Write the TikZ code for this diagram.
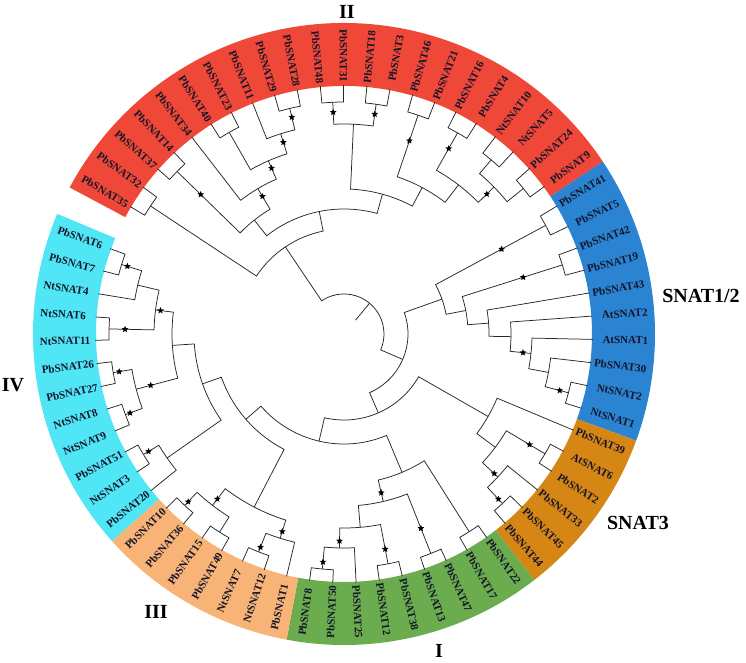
\documentclass[tikz,border=0pt]{standalone}
\usepackage{fontspec}
\setmainfont{Liberation Serif}
\usetikzlibrary{shapes.geometric}
\definecolor{cII}{HTML}{F04838}
\definecolor{cSA}{HTML}{2A84D2}
\definecolor{cSB}{HTML}{D68614}
\definecolor{cI}{HTML}{6AAC4E}
\definecolor{cIII}{HTML}{F8B476}
\definecolor{cIV}{HTML}{50E6F5}
\definecolor{labc}{HTML}{14142A}
\tikzset{
  br/.style={draw=black!85, line width=0.75pt},
  lab/.style={font=\bfseries\fontsize{11}{11}\selectfont, inner sep=0.5pt, text=labc},
  big/.style={font=\bfseries\fontsize{20}{20}\selectfont, inner sep=0pt},
  bs/.style={star, star points=5, star point ratio=2.2, fill=black, draw=none, inner sep=0pt, minimum size=7pt},
}
\newcommand\lf[2]{%
  \pgfmathsetmacro\lfa{149.2-5.373*#2}%
  \expandafter\let\csname ang#1\endcsname\lfa
  \coordinate (#1) at (\lfa:249pt);%
  \ifdim\lfa pt<-90pt
    \pgfmathsetmacro\lfr{\lfa+180}\node[lab,rotate=\lfr,anchor=west] (L#1) at (\lfa:305pt) {#1};%
  \else\ifdim\lfa pt>90pt
    \pgfmathsetmacro\lfr{\lfa-180}\node[lab,rotate=\lfr,anchor=west] (L#1) at (\lfa:305pt) {#1};%
  \else
    \node[lab,rotate=\lfa,anchor=east] (L#1) at (\lfa:305pt) {#1};%
  \fi\fi}
\newcommand\nd[4]{%
  \edef\nca{\csname ang#3\endcsname}%
  \edef\ncb{\csname ang#4\endcsname}%
  \pgfmathsetmacro\nmid{(\nca+\ncb)/2}%
  \expandafter\let\csname ang#1\endcsname\nmid
  \coordinate (#1) at (\nmid:#2pt);%
  \draw[br] (#3) -- (\nca:#2pt) arc[start angle=\nca, end angle=\ncb, radius=#2pt] -- (#4);}
\newcommand\st[2]{\edef\sta{\csname ang#1\endcsname}\node[bs] (s#1) at (\sta:#2pt) {};}
\newcommand\band[3]{\fill[#1] (#2:248pt) arc[start angle=#2, end angle=#3, radius=248pt] -- (#3:311pt) arc[start angle=#3, end angle=#2, radius=311pt] -- cycle;}
\begin{document}
\begin{tikzpicture}
\useasboundingbox (-344pt,-328pt) rectangle (402pt,334pt);
% bands
\band{cII}{151.89}{33.68}
\band{cSA}{33.68}{-20.05}
\band{cSB}{-20.05}{-52.29}
\band{cI}{-52.29}{-100.64}
\band{cIII}{-100.64}{-138.26}
\band{cIV}{-138.26}{-202.73}
% leaves
\lf{PbSNAT35}{0}\lf{PbSNAT32}{1}\lf{PbSNAT37}{2}\lf{PbSNAT14}{3}\lf{PbSNAT34}{4}
\lf{PbSNAT40}{5}\lf{PbSNAT23}{6}\lf{PbSNAT11}{7}\lf{PbSNAT29}{8}\lf{PbSNAT28}{9}
\lf{PbSNAT48}{10}\lf{PbSNAT31}{11}\lf{PbSNAT18}{12}\lf{PbSNAT3}{13}\lf{PbSNAT46}{14}
\lf{PbSNAT21}{15}\lf{PbSNAT16}{16}\lf{PbSNAT4}{17}\lf{NtSNAT10}{18}\lf{NtSNAT5}{19}
\lf{PbSNAT24}{20}\lf{PbSNAT9}{21}\lf{PbSNAT41}{22}\lf{PbSNAT5}{23}\lf{PbSNAT42}{24}
\lf{PbSNAT19}{25}\lf{PbSNAT43}{26}\lf{AtSNAT2}{27}\lf{AtSNAT1}{28}\lf{PbSNAT30}{29}
\lf{NtSNAT2}{30}\lf{NtSNAT1}{31}\lf{PbSNAT39}{32}\lf{AtSNAT6}{33}\lf{PbSNAT2}{34}
\lf{PbSNAT33}{35}\lf{PbSNAT45}{36}\lf{PbSNAT44}{37}\lf{PbSNAT22}{38}\lf{PbSNAT17}{39}
\lf{PbSNAT47}{40}\lf{PbSNAT13}{41}\lf{PbSNAT38}{42}\lf{PbSNAT12}{43}\lf{PbSNAT25}{44}
\lf{PbSNAT50}{45}\lf{PbSNAT8}{46}\lf{PbSNAT1}{47}\lf{NtSNAT12}{48}\lf{NtSNAT7}{49}
\lf{PbSNAT49}{50}\lf{PbSNAT15}{51}\lf{PbSNAT36}{52}\lf{PbSNAT10}{53}\lf{PbSNAT20}{54}
\lf{NtSNAT3}{55}\lf{PbSNAT51}{56}\lf{NtSNAT9}{57}\lf{NtSNAT8}{58}\lf{PbSNAT27}{59}
\lf{PbSNAT26}{60}\lf{NtSNAT11}{61}\lf{NtSNAT6}{62}\lf{NtSNAT4}{63}\lf{PbSNAT7}{64}
\lf{PbSNAT6}{65}
% clade II
\nd{aA}{232}{PbSNAT35}{PbSNAT32}
\nd{aB}{233}{PbSNAT37}{PbSNAT14}
\nd{aC}{232}{PbSNAT40}{PbSNAT23}
\nd{aD}{232}{PbSNAT29}{PbSNAT28}
\nd{aY}{210}{PbSNAT11}{aD}
\nd{aX}{189}{aC}{aY}
\nd{aW}{169}{PbSNAT34}{aX}
\nd{aV}{145}{aB}{aW}
\nd{bA}{232}{PbSNAT48}{PbSNAT31}
\nd{bB}{232}{PbSNAT18}{PbSNAT3}
\nd{bP}{210}{bA}{bB}
\nd{bC}{231}{PbSNAT46}{PbSNAT21}
\nd{bD}{231}{PbSNAT16}{PbSNAT4}
\nd{bE}{228}{NtSNAT10}{NtSNAT5}
\nd{bF}{231}{PbSNAT24}{PbSNAT9}
\nd{bQ}{210}{bE}{bF}
\nd{bR}{188}{bD}{bQ}
\nd{bS}{166}{bC}{bR}
\nd{bT}{145}{bP}{bS}
\nd{cU}{125}{aV}{bT}
\nd{cA}{105}{aA}{cU}
% SNAT1/2
\nd{dA}{229}{PbSNAT41}{PbSNAT5}
\nd{dB}{229}{PbSNAT42}{PbSNAT19}
\nd{dG}{232}{NtSNAT2}{NtSNAT1}
\nd{dF}{208}{PbSNAT30}{dG}
\nd{dH}{188}{AtSNAT1}{dF}
\nd{dI}{167}{AtSNAT2}{dH}
\nd{dE}{145}{PbSNAT43}{dI}
\nd{dD}{124}{dB}{dE}
\nd{dC}{104}{dA}{dD}
% SNAT3
\nd{eM}{234}{AtSNAT6}{PbSNAT2}
\nd{eO}{232}{PbSNAT45}{PbSNAT44}
\nd{eN}{210}{PbSNAT33}{eO}
\nd{eL}{189}{eM}{eN}
\nd{eK}{166}{PbSNAT39}{eL}
% I
\nd{fA}{234}{PbSNAT22}{PbSNAT17}
\nd{fB}{236}{PbSNAT47}{PbSNAT13}
\nd{fC}{234}{PbSNAT38}{PbSNAT12}
\nd{fD}{236}{PbSNAT50}{PbSNAT8}
\nd{fV}{214}{PbSNAT25}{fD}
\nd{fW}{194}{fC}{fV}
\nd{fS}{172}{fB}{fW}
\nd{fR}{150}{fA}{fS}
% III
\nd{gA}{234}{NtSNAT12}{NtSNAT7}
\nd{gZ}{214}{PbSNAT1}{gA}
\nd{gB}{234}{PbSNAT49}{PbSNAT15}
\nd{gC}{234}{PbSNAT36}{PbSNAT10}
\nd{gX}{216}{gB}{gC}
\nd{gY}{195}{gZ}{gX}
% IV
\nd{hA}{234}{NtSNAT3}{PbSNAT51}
\nd{hW}{216}{PbSNAT20}{hA}
\nd{hB}{233}{NtSNAT9}{NtSNAT8}
\nd{hC}{234}{PbSNAT27}{PbSNAT26}
\nd{hT}{215}{hB}{hC}
\nd{hD}{235}{NtSNAT11}{NtSNAT6}
\nd{hE}{233}{PbSNAT7}{PbSNAT6}
\nd{hN}{212}{NtSNAT4}{hE}
\nd{hS}{190}{hD}{hN}
\nd{hU}{172}{hT}{hS}
\nd{hV}{150}{hW}{hU}
% backbone
\nd{iQ}{130}{gY}{hV}
\nd{iP}{110}{fR}{iQ}
\nd{iJ}{86}{eK}{iP}
\nd{iB}{64}{dC}{iJ}
\nd{root}{40}{cA}{iB}
\edef\rta{\csname angroot\endcsname}
\coordinate (stub) at (\rta:18pt);
\draw[br] (root) -- (stub);
% bootstrap stars
\st{aD}{223}\st{aY}{201}\st{aX}{181}\st{aW}{160}\st{aB}{200}
\st{bA}{222}\st{bB}{222}\st{bC}{204}\st{bD}{213}\st{bQ}{200}
\st{dA}{179}\st{dB}{188}\st{dH}{180}\st{dG}{223}
\st{eM}{216}\st{eN}{205}\st{eO}{226}
\st{fD}{229}\st{fV}{207}\st{fC}{219}\st{fB}{209}\st{fS}{163}
\st{gA}{229}\st{gZ}{207}\st{gC}{229}\st{gX}{208}
\st{hA}{228}\st{hB}{228}\st{hC}{228}\st{hT}{200}\st{hD}{219}\st{hS}{185}\st{hE}{227}
% clade labels
\node[big] (tII) at (3pt,322pt) {II};
\node[big] (tSA) at (357pt,38pt) {SNAT1/2};
\node[big] (tSB) at (294pt,-189pt) {SNAT3};
\node[big] (tIV) at (-331pt,-51pt) {IV};
\node[big] (tIII) at (-188pt,-278pt) {III};
\node[big] (tI) at (95pt,-317pt) {I};
\end{tikzpicture}
\end{document}
